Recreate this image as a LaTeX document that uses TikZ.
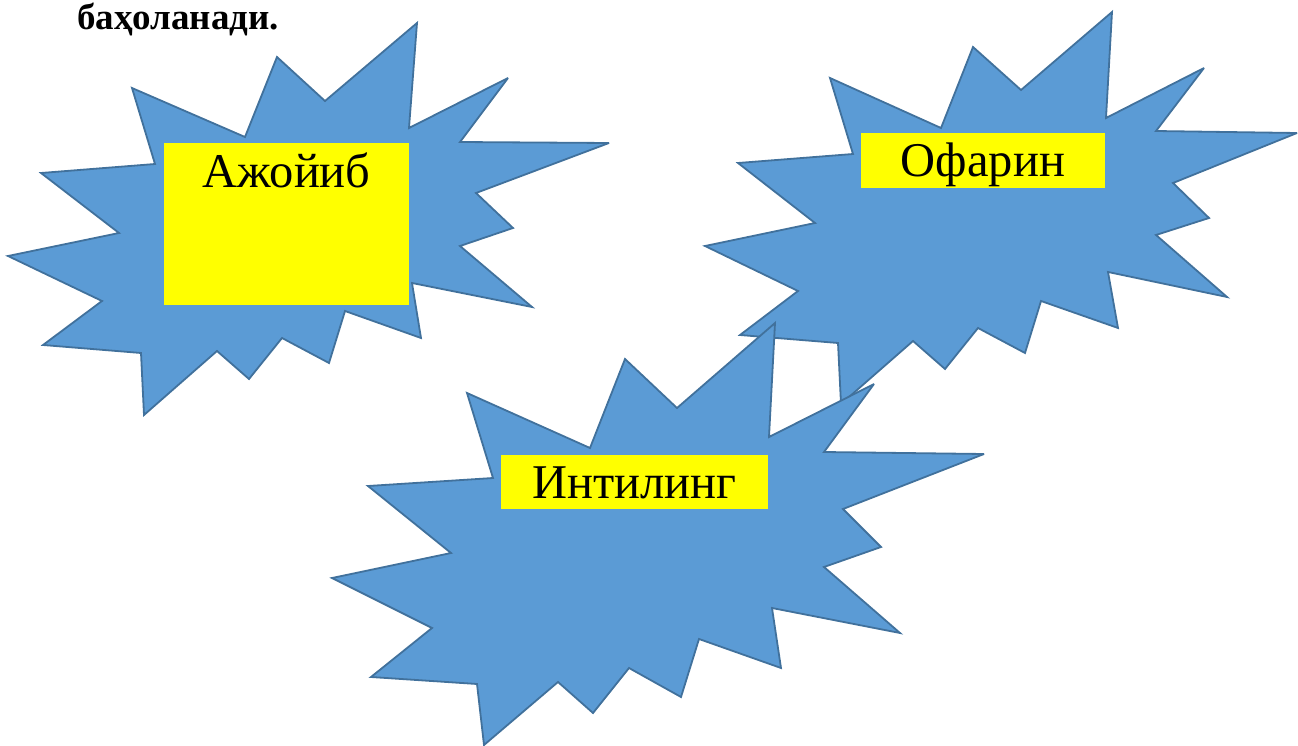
\documentclass[tikz,border=0pt]{standalone}
\usepackage{fontspec}
\setmainfont{Liberation Serif}
\definecolor{boxyellow}{RGB}{255,255,0}
\definecolor{burstfill}{RGB}{91,155,213}
\definecolor{burstline}{RGB}{65,113,156}
\begin{document}
\begin{tikzpicture}[x=1pt,y=-1pt,
  burst/.style={fill=burstfill, draw=burstline, line width=1.8pt, line join=miter, miter limit=4},
  ybox/.style={fill=boxyellow, draw=none, inner sep=0pt, anchor=north west},
  lbl/.style={anchor=base, inner sep=0pt, font=\fontsize{48.5}{48.5}\selectfont},
  head/.style={anchor=base west, inner sep=0pt, font=\fontsize{37}{37}\selectfont\bfseries}]
\useasboundingbox (0,0) rectangle (1298,746);

\node[head] (title) at (77,30) {баҳоланади.};

% star 1
\draw[burst] (417,23) -- (409,128) -- (508,78) -- (460,142) -- (609,143) -- (476,193) -- (513,228) -- (460,246) -- (532,307) -- (412,283) -- (421,338) -- (345,311) -- (329,363) -- (282,338) -- (249,379) -- (217,351) -- (144,415) -- (141,353) -- (43,345) -- (102,301) -- (8,256) -- (119,233) -- (41,173) -- (155,164) -- (132,88) -- (245,137) -- (277,57) -- (325,101) -- cycle;
\node[ybox, minimum width=245pt, minimum height=162pt] (b1) at (164,143) {};
\node[lbl] (t1) at (286.5,188) {Ажойиб};

% star 2
\draw[burst] (1112,12) -- (1106,118) -- (1204,68) -- (1156,131) -- (1297,133) -- (1173,183) -- (1209,218) -- (1156,235) -- (1227,297) -- (1108,272) -- (1118,328) -- (1041,301) -- (1025,353) -- (978,328) -- (945,369) -- (913,341) -- (841,404) -- (838,343) -- (740,335) -- (798,291) -- (705,246) -- (815,223) -- (738,163) -- (853,154) -- (830,78) -- (941,128) -- (973,47) -- (1021,90) -- cycle;
\node[ybox, minimum width=244pt, minimum height=55pt] (b2) at (861,133) {};
\node[lbl] (t2) at (983,177) {Офарин};

% star 3
\draw[burst] (775,323) -- (769,437) -- (874,384) -- (824,452) -- (984,454) -- (843,509) -- (881,547) -- (824,567) -- (900,633) -- (772,608) -- (781,668) -- (699,639) -- (681,697) -- (629,668) -- (593,713) -- (558,682) -- (484,745) -- (477,684) -- (371,677) -- (432,628) -- (332,578) -- (451,553) -- (368,486) -- (493,478) -- (467,393) -- (590,448) -- (625,359) -- (677,408) -- cycle;
\node[ybox, minimum width=267pt, minimum height=54pt] (b3) at (501,455) {};
\node[lbl] (t3) at (634.5,498) {Интилинг};
\end{tikzpicture}
\end{document}
